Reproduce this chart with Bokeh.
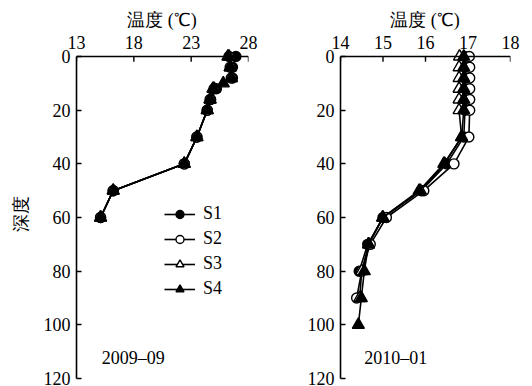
from bokeh.plotting import figure
from bokeh.layouts import row
from bokeh.models import Range1d, Legend, LegendItem, Label, FixedTicker, Span
from bokeh.embed import file_html
from bokeh.resources import INLINE

# ---- 2009-09 ----
d1_a = [0, 4, 8, 12, 16, 20, 30, 40, 50, 60]
s1_a = [26.9, 26.6, 26.6, 25.2, 24.7, 24.4, 23.5, 22.4, 16.2, 15.1]
d2_a = [0, 4, 8, 12, 16, 20, 30, 40, 50, 60]
s2_a = [26.3, 26.4, 26.5, 25.0, 24.65, 24.4, 23.5, 22.4, 16.2, 15.1]
d3_a = [0, 4, 8, 12, 16, 20, 30, 40, 50, 60]
s3_a = [26.3, 26.4, 26.5, 25.0, 24.65, 24.4, 23.5, 22.4, 16.2, 15.1]
d4_a = [0, 4, 8, 10, 12, 16, 20, 30, 40, 50, 60]
s4_a = [26.2, 26.4, 26.5, 25.8, 24.9, 24.65, 24.4, 23.5, 22.4, 16.2, 15.1]

# ---- 2010-01 ----
d1_b = [0, 4, 8, 12, 16, 20, 30, 40, 50, 60, 70, 80]
s1_b = [16.92, 16.93, 16.93, 16.93, 16.93, 16.93, 16.9, 16.5, 15.9, 15.0, 14.64, 14.44]
d2_b = [0, 4, 8, 12, 16, 20, 30, 40, 50, 60, 70, 80, 90]
s2_b = [17.03, 17.04, 17.04, 17.04, 17.04, 17.04, 17.02, 16.67, 15.96, 15.08, 14.7, 14.5, 14.38]
d3_b = [0, 4, 8, 12, 16, 20, 30, 40, 50, 60, 70, 80, 90]
s3_b = [16.8, 16.79, 16.79, 16.79, 16.79, 16.79, 16.85, 16.45, 15.88, 15.0, 14.66, 14.5, 14.45]
d4_b = [0, 4, 8, 12, 16, 20, 30, 40, 50, 60, 70, 80, 90, 100]
s4_b = [16.9, 16.9, 16.9, 16.9, 16.9, 16.9, 16.85, 16.43, 15.85, 14.99, 14.66, 14.56, 14.49, 14.42]

xticks_a = [13, 18, 23, 28]
xticks_b = [14, 15, 16, 17, 18]
yticks = [0, 20, 40, 60, 80, 100, 120]

FONT = "Liberation Serif"


def make_fig(xr, xticks, left_border, frame_w, right_border, ylabel):
    p = figure(width=left_border + frame_w + right_border, height=386,
               x_range=Range1d(*xr), y_range=Range1d(120, -3),
               x_axis_location="above", output_backend="svg",
               toolbar_location=None, min_border_left=left_border,
               min_border_right=right_border, min_border_top=48,
               min_border_bottom=8)
    p.frame_width = frame_w
    p.frame_height = 330
    p.outline_line_color = None
    p.grid.visible = False
    p.background_fill_color = "white"
    for ax in (p.xaxis[0], p.yaxis[0]):
        ax.axis_line_width = 1.6
        ax.axis_line_color = "black"
        ax.major_tick_in = 5
        ax.major_tick_out = 0
        ax.major_tick_line_width = 1.4
        ax.minor_tick_line_color = None
        ax.major_label_text_font = FONT
        ax.major_label_text_font_size = "18px"
        ax.major_label_text_color = "black"
        ax.axis_label_text_font = FONT
        ax.axis_label_text_font_style = "normal"
        ax.axis_label_text_font_size = "18px"
        ax.axis_label_text_color = "black"
    p.xaxis.ticker = FixedTicker(ticks=xticks)
    p.yaxis.ticker = FixedTicker(ticks=yticks)
    # top axis: labels from the axis, line + ticks drawn at depth 0
    p.xaxis.axis_line_color = None
    p.xaxis.major_tick_line_color = None
    p.xaxis.major_tick_in = 0
    p.yaxis.bounds = (0, 120)
    p.xaxis.axis_label = "温度 (℃)"
    p.xaxis.major_label_standoff = 0
    p.xaxis.axis_label_standoff = 3
    p.yaxis.major_label_standoff = 6
    if ylabel:
        p.yaxis.axis_label = ylabel
        p.yaxis.axis_label_standoff = 10
    p.add_layout(Span(location=0, dimension="width", line_color="black",
                      line_width=1.6))
    p.segment(x0=xticks, y0=[0] * len(xticks), x1=xticks,
              y1=[1.9] * len(xticks), line_color="black", line_width=1.4)
    return p


def add_series(p, d, t, kind):
    r_line = p.line(t, d, line_color="black", line_width=1.6)
    if kind == "S1":
        r_m = p.scatter(t, d, marker="circle", size=10, fill_color="black",
                        line_color="black", line_width=1.4)
    elif kind == "S2":
        r_m = p.scatter(t, d, marker="circle", size=10, fill_color="white",
                        line_color="black", line_width=1.4)
    elif kind == "S3":
        r_m = p.scatter(t, d, marker="triangle", size=12, fill_color="white",
                        line_color="black", line_width=1.4)
    else:
        r_m = p.scatter(t, d, marker="triangle", size=12, fill_color="black",
                        line_color="black", line_width=1.4)
    return [r_line, r_m]


pa = make_fig((13, 28), xticks_a, 76, 172, 14, "深度")
ra1 = add_series(pa, d1_a, s1_a, "S1")
ra2 = add_series(pa, d2_a, s2_a, "S2")
ra3 = add_series(pa, d3_a, s3_a, "S3")
ra4 = add_series(pa, d4_a, s4_a, "S4")

legend = Legend(items=[LegendItem(label="S1", renderers=ra1),
                       LegendItem(label="S2", renderers=ra2),
                       LegendItem(label="S3", renderers=ra3),
                       LegendItem(label="S4", renderers=ra4)],
                location=(88, 79), padding=0, margin=0, spacing=4,
                glyph_width=31, glyph_height=20, label_height=20,
                label_standoff=8, border_line_color=None,
                background_fill_alpha=0, label_text_font=FONT,
                label_text_font_size="18px", label_text_color="black")
pa.add_layout(legend)
pa.add_layout(Label(x=15.2, y=112.5, text="2009–09", text_font=FONT,
                    text_font_size="18px", text_baseline="middle",
                    text_color="black"))

pb = make_fig((14, 18), xticks_b, 78, 170, 22, None)
add_series(pb, d1_b, s1_b, "S1")
add_series(pb, d2_b, s2_b, "S2")
add_series(pb, d3_b, s3_b, "S3")
add_series(pb, d4_b, s4_b, "S4")
pb.add_layout(Label(x=14.56, y=112.5, text="2010–01", text_font=FONT,
                    text_font_size="18px", text_baseline="middle",
                    text_color="black"))

layout = row(pa, pb, spacing=0)
open("out.html", "w").write(file_html(layout, INLINE))
